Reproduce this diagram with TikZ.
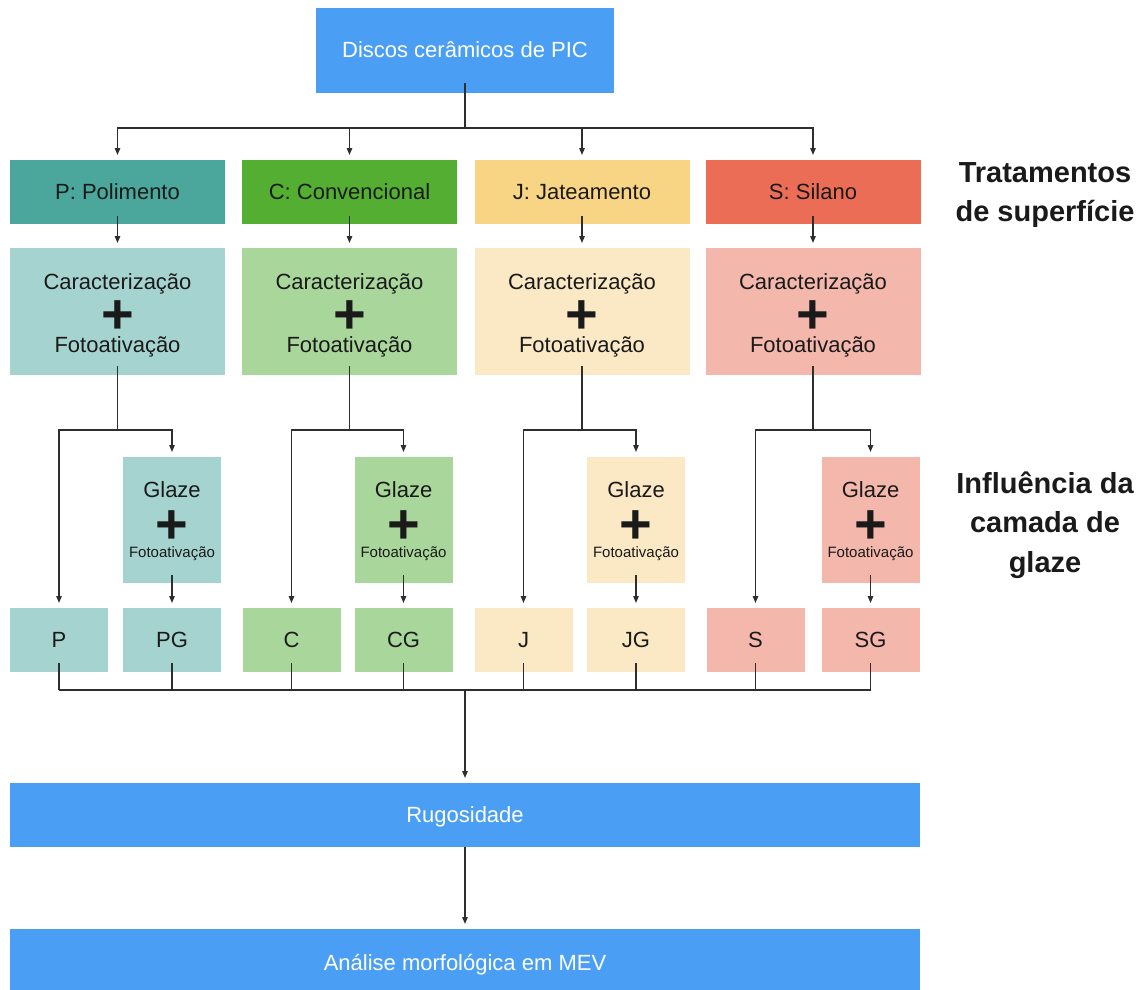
\documentclass[tikz,border=0pt]{standalone}
\usepackage{fontspec}
\setmainfont{Liberation Sans}
\usetikzlibrary{arrows.meta}
\definecolor{mblue}{HTML}{4A9FF5}
\definecolor{pdark}{HTML}{4BA69B}
\definecolor{plight}{HTML}{A5D3CF}
\definecolor{cdark}{HTML}{53AE32}
\definecolor{clight}{HTML}{A9D69B}
\definecolor{jdark}{HTML}{F8D585}
\definecolor{jlight}{HTML}{FBE9C5}
\definecolor{sdark}{HTML}{EC6D56}
\definecolor{slight}{HTML}{F4B7AC}
\definecolor{txt}{HTML}{1A1A1A}
\definecolor{lncol}{HTML}{2E2E2E}
\begin{document}
\begin{tikzpicture}[x=1pt,y=-1pt,
  box/.style={rectangle, inner sep=0pt, outer sep=0pt, text=txt,
    font=\fontsize{22}{26}\selectfont, text height=15.8pt, text depth=0pt},
  bluebox/.style={box, fill=mblue, text=white},
  lbl/.style={inner sep=0pt, outer sep=0pt, text=txt, font=\fontsize{22}{26}\selectfont,
    text height=15.8pt, text depth=0pt},
  smalllbl/.style={lbl, font=\fontsize{15}{18}\selectfont, text height=10.8pt},
  plus/.style={inner sep=0pt, outer sep=0pt, text=txt, anchor=base,
    font=\fontsize{56}{56}\selectfont\bfseries},
  side/.style={inner sep=0pt, text=txt, align=center,
    font=\fontsize{29}{39.5}\selectfont\bfseries},
  ln/.style={draw=lncol, line width=1.3pt},
  ar/.style={ln, -{Triangle[length=7pt,width=5.5pt]}, shorten >=5pt}
]
\useasboundingbox (0,0) rectangle (1145,989);

% top box
\node[bluebox, minimum width=298, minimum height=85] (top) at (465,50) {Discos cerâmicos de PIC};
\coordinate (hb) at (465,128);
\draw[ln] ([yshift=10pt]top.south) -- (hb);

\foreach \n/\cx/\lx/\gx/\dk/\lt/\lab in {
  P/117.5/59/172/pdark/plight/{P: Polimento},
  C/349.5/291.5/403.5/cdark/clight/{C: Convencional},
  J/582/523.5/636/jdark/jlight/{J: Jateamento},
  S/813/755.5/870.5/sdark/slight/{S: Silano}} {
  % treatment header
  \node[box, fill=\dk, minimum width=215, minimum height=64] (t\n) at (\cx,192) {\lab};
  \draw[ar] (hb) -| (t\n.north);
  % characterisation box
  \node[box, fill=\lt, minimum width=215, minimum height=127] (c\n) at (\cx,311.5) {};
  \node[lbl] (ca\n) at (\cx,282) {Caracterização};
  \node[plus] (cp\n) at (\cx,333) {+};
  \node[lbl] (cf\n) at (\cx,345) {Fotoativação};
  \draw[ar] ([yshift=8pt]t\n.south) -- (c\n.north);
  % glaze box
  \node[box, fill=\lt, minimum width=98, minimum height=126] (g\n) at (\gx,520) {};
  \node[lbl] (ga\n) at (\gx,490) {Glaze};
  \node[plus] (gp\n) at (\gx,543) {+};
  \node[smalllbl] (gf\n) at (\gx,552) {Fotoativação};
  % final groups
  \node[box, fill=\lt, minimum width=98, minimum height=64] (L\n) at (\lx,640) {\n};
  \node[box, fill=\lt, minimum width=98, minimum height=64] (G\n) at (\gx,640) {\n G};
  % connectors
  \coordinate (b\n) at (\cx,430);
  \draw[ln] ([yshift=9pt]c\n.south) -- (b\n);
  \draw[ar] (b\n) -| (L\n.north);
  \draw[ar] (b\n) -| (g\n.north);
  \draw[ar] ([yshift=8pt]g\n.south) -- (G\n.north);
}

% bus to Rugosidade
\coordinate (busL) at (59,690);
\coordinate (busR) at (870.5,690);
\foreach \n in {P,C,J,S} {
  \draw[ln] ([yshift=9pt]L\n.south) -- (L\n.south |- busL);
  \draw[ln] ([yshift=9pt]G\n.south) -- (G\n.south |- busL);
}
\draw[ln] (busL) -- (busR);

\node[bluebox, minimum width=910, minimum height=64] (rug) at (465,815) {Rugosidade};
\node[bluebox, minimum width=910, minimum height=68] (ana) at (465,963) {Análise morfológica em MEV};
\draw[ar] (rug.north |- busL) -- (rug.north);
\draw[ar] (rug.south) -- (ana.north);

% side labels
\node[side] (side1) at (1045,195) {Tratamentos\\de superfície};
\node[side] (side2) at (1045,525) {Influência da\\camada de\\glaze};
\end{tikzpicture}
\end{document}
